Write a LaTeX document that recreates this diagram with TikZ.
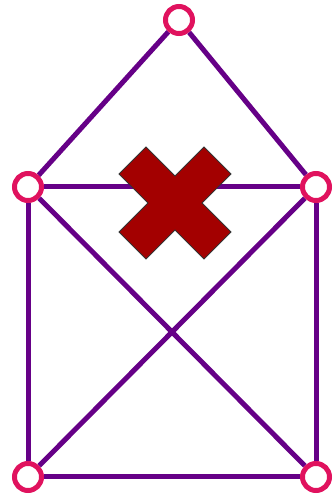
\documentclass[tikz,border=0pt]{standalone}
\usepackage{xcolor}
\usepackage{tikz}
\usetikzlibrary{positioning}
\definecolor{hsviolet}{HTML}{660087}
\definecolor{hsrose}{HTML}{E0125E}
\definecolor{hscross}{HTML}{A30000}

\begin{document}
\begin{tikzpicture}[
   x=1pt, y=1pt,
   vertex/.style={circle, draw=hsrose, line width=5pt, fill=white,
                  minimum size=27pt, inner sep=0pt},
   edge/.style={hsviolet, line width=5pt},
   cross/.style={fill=hscross, draw=black!80, line width=0.8pt}]
  \useasboundingbox (0,0) rectangle (334,496);
  \node[vertex] (top) at (179,476) {};
  \node[vertex] (left) at (28,309) {};
  \node[vertex] (right) at (316,309) {};
  \node[vertex] (botleft) at (28,19) {};
  \node[vertex] (botright) at (316,19) {};
  \draw[edge] (top) -- (left);
  \draw[edge] (top) -- (right);
  \draw[edge] (left) -- (right);
  \draw[edge] (left) -- (botleft);
  \draw[edge] (right) -- (botright);
  \draw[edge] (botleft) -- (botright);
  \draw[edge] (left) -- (botright);
  \draw[edge] (right) -- (botleft);
  % the cross over the envelope flap
  \draw[cross, shift={(175,293)}] (0,27) -- (29,56) -- (56,29) -- (27,0)
    -- (56,-29) -- (29,-56) -- (0,-27) -- (-29,-56) -- (-56,-29) -- (-27,0)
    -- (-56,29) -- (-29,56) -- cycle;
\end{tikzpicture}
\end{document}
